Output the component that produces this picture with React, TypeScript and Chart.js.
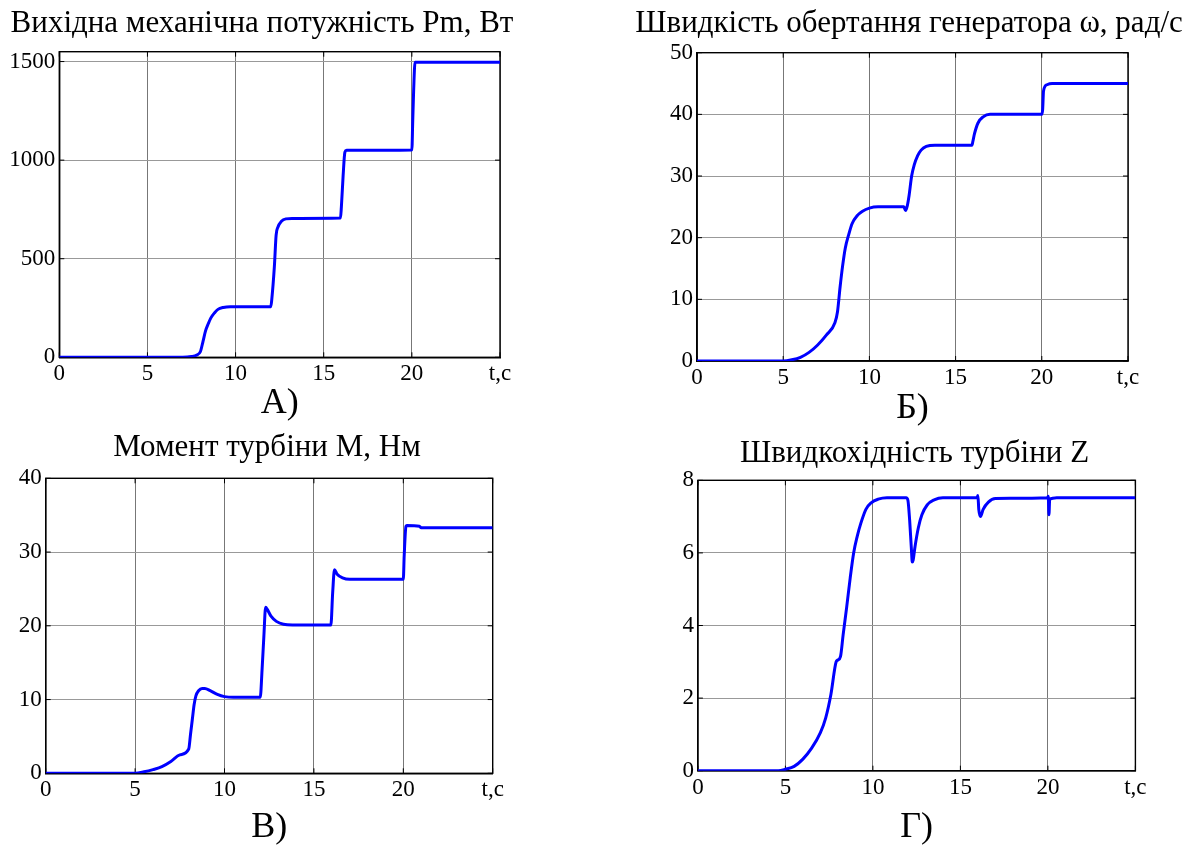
import React, { useEffect, useRef } from 'react';
import { Chart, registerables } from 'chart.js';

Chart.register(...registerables);

const FONT = "'Liberation Serif', 'Times New Roman', serif";

// ---- shared axis ticks ----
const xTickValues = [0, 5, 10, 15, 20, 25];
const xTickLabels = ['0', '5', '10', '15', '20', 't,c'];

// ---- A) Output mechanical power ----
const titleA = 'Вихідна механічна потужність Pm, Вт';
const subA = 'А)';
const yTicksA = [0, 500, 1000, 1500];
const tA = [0, 7.0, 7.5, 7.8, 8.0, 8.15, 8.3, 8.45, 8.6, 8.8, 9.0, 9.3, 9.7, 12.0, 12.05, 12.2, 12.3, 12.4, 12.6, 12.85, 13.2, 15.95, 16.0, 16.1, 16.2, 16.3, 20.0, 20.05, 20.1, 20.18, 25];
const pA = [0, 0, 4, 12, 28, 80, 135, 170, 200, 225, 243, 253, 257, 257, 290, 460, 620, 660, 690, 702, 704, 706, 760, 920, 1040, 1050, 1052, 1200, 1350, 1497, 1497];

// ---- Б) Generator speed ----
const titleB = 'Швидкість обертання генератора ω, рад/с';
const subB = 'Б)';
const yTicksB = [0, 10, 20, 30, 40, 50];
const tB = [0, 5.0, 5.5, 6.0, 6.5, 7.0, 7.5, 8.0, 8.15, 8.3, 8.45, 8.6, 8.8, 9.0, 9.3, 9.6, 10.0, 10.5, 12.0, 12.1, 12.2, 12.3, 12.45, 12.6, 12.8, 13.0, 13.3, 13.8, 15.95, 16.0, 16.1, 16.3, 16.6, 17.0, 20.0, 20.05, 20.1, 20.3, 20.6, 25];
const wB = [0, 0, 0.2, 0.6, 1.4, 2.6, 4.2, 6.2, 8.0, 12.0, 15.5, 18.3, 20.5, 22.3, 23.6, 24.3, 24.8, 25, 25, 24.4, 25.2, 26.8, 30.0, 31.8, 33.3, 34.2, 34.8, 35, 35, 35.6, 36.9, 38.6, 39.6, 40, 40, 40.8, 43.8, 44.8, 45, 45];

// ---- В) Turbine torque ----
const titleC = 'Момент турбіни М, Нм';
const subC = 'В)';
const yTicksC = [0, 10, 20, 30, 40];
const tC = [0, 5.0, 5.5, 6.0, 6.5, 7.0, 7.5, 8.0, 8.1, 8.2, 8.3, 8.4, 8.55, 8.75, 8.9, 9.2, 9.6, 10.0, 10.5, 12.0, 12.1, 12.2, 12.3, 12.4, 12.6, 12.9, 13.3, 13.8, 15.95, 16.05, 16.15, 16.3, 16.6, 17.0, 20.0, 20.05, 20.15, 20.2, 20.9, 21.0, 25];
const mC = [0, 0, 0.2, 0.5, 0.9, 1.6, 2.5, 3.3, 5.3, 7.3, 9.3, 10.5, 11.2, 11.5, 11.5, 11.2, 10.7, 10.4, 10.3, 10.3, 14.0, 18.5, 22.5, 22.2, 21.3, 20.6, 20.2, 20.1, 20.1, 24.5, 27.6, 27.0, 26.5, 26.3, 26.3, 29.5, 33.5, 33.6, 33.5, 33.3, 33.3];

// ---- Г) Turbine tip speed ratio ----
const titleD = 'Швидкохідність турбіни Z';
const subD = 'Г)';
const yTicksD = [0, 2, 4, 6, 8];
const tD = [0, 4.6, 5.0, 5.5, 6.0, 6.5, 7.0, 7.3, 7.6, 7.9, 8.0, 8.15, 8.3, 8.5, 8.7, 8.9, 9.1, 9.3, 9.6, 9.9, 10.3, 10.8, 11.9, 12.0, 12.1, 12.2, 12.25, 12.3, 12.4, 12.6, 12.8, 13.1, 13.5, 14.0, 15.95, 16.0, 16.05, 16.15, 16.3, 16.6, 17.0, 19.98, 20.02, 20.06, 20.1, 20.2, 20.5, 25];
const zD = [0, 0, 0.04, 0.12, 0.32, 0.62, 1.05, 1.45, 2.1, 3.0, 3.05, 3.15, 3.75, 4.5, 5.3, 6.0, 6.45, 6.8, 7.2, 7.38, 7.48, 7.52, 7.52, 7.45, 6.9, 6.1, 5.75, 5.8, 6.15, 6.7, 7.05, 7.32, 7.46, 7.52, 7.52, 7.58, 7.2, 7.0, 7.2, 7.4, 7.5, 7.52, 7.56, 7.05, 7.45, 7.5, 7.52, 7.52];

type Panel = {
  title: string;
  sub: string;
  t: number[];
  v: number[];
  yTicks: number[];
  yMax: number;
  left: number;
  top: number;
  w: number;
  h: number;
  yW: number;
  rW: number;
  titlePad: [number, number];
  xH: number;
  subPad: number;
};

const panels: Panel[] = [
  { title: titleA, sub: subA, t: tA, v: pA, yTicks: yTicksA, yMax: 1550, left: 0, top: 0, w: 524, h: 430, yW: 59.3, rW: 24, titlePad: [5.4, 9.1], xH: 72.7, subPad: 8 },
  { title: titleB, sub: subB, t: tB, v: wB, yTicks: yTicksB, yMax: 50, left: 618, top: 0, w: 582, h: 430, yW: 79, rW: 72, titlePad: [5.4, 10.1], xH: 69, subPad: 3 },
  { title: titleC, sub: subC, t: tC, v: mC, yTicks: yTicksC, yMax: 40, left: 0, top: 420, w: 534, h: 426, yW: 45.7, rW: 41.3, titlePad: [9.4, 11.7], xH: 72.7, subPad: 0 },
  { title: titleD, sub: subD, t: tD, v: zD, yTicks: yTicksD, yMax: 8, left: 678, top: 420, w: 473, h: 426, yW: 19.9, rW: 15.6, titlePad: [15.4, 7.7], xH: 75.3, subPad: 0 },
];

const framePlugin = {
  id: 'frameTicks',
  beforeDatasetsDraw(chart: any) {
    const { ctx, chartArea: a, scales } = chart;
    ctx.save();
    ctx.strokeStyle = '#000';
    ctx.lineWidth = 1.4;
    ctx.strokeRect(a.left, a.top, a.right - a.left, a.bottom - a.top);
    const tl = 5;
    ctx.lineWidth = 1;
    ctx.beginPath();
    scales.x.ticks.forEach((tk: any) => {
      const px = scales.x.getPixelForValue(tk.value);
      ctx.moveTo(px, a.bottom);
      ctx.lineTo(px, a.bottom - tl);
      ctx.moveTo(px, a.top);
      ctx.lineTo(px, a.top + tl);
    });
    scales.y.ticks.forEach((tk: any) => {
      const py = scales.y.getPixelForValue(tk.value);
      ctx.moveTo(a.left, py);
      ctx.lineTo(a.left + tl, py);
      ctx.moveTo(a.right, py);
      ctx.lineTo(a.right - tl, py);
    });
    ctx.stroke();
    ctx.restore();
  },
};

function PanelChart({ p }: { p: Panel }) {
  const ref = useRef<HTMLCanvasElement | null>(null);
  useEffect(() => {
    if (!ref.current) return;
    const chart = new Chart(ref.current, {
      type: 'line',
      data: {
        datasets: [
          {
            data: p.t.map((x, i) => ({ x, y: p.v[i] })),
            borderColor: '#0000ff',
            borderWidth: 3,
            pointRadius: 0,
            cubicInterpolationMode: 'monotone',
            fill: false,
          },
        ],
      },
      options: {
        responsive: false,
        animation: false,
        devicePixelRatio: 1,
        layout: { padding: 0 },
        plugins: {
          legend: { display: false },
          tooltip: { enabled: false },
          title: {
            display: true,
            text: p.title,
            color: '#000',
            font: { family: FONT, size: 31, weight: 'normal' },
            padding: { top: p.titlePad[0], bottom: p.titlePad[1] },
          },
        },
        scales: {
          x: {
            type: 'linear',
            min: 0,
            max: 25,
            afterBuildTicks: (s: any) => {
              s.ticks = xTickValues.map((value) => ({ value }));
            },
            afterFit: (s: any) => {
              s.height = p.xH;
            },
            ticks: {
              autoSkip: false,
              maxRotation: 0,
              padding: 3,
              color: '#000',
              font: { family: FONT, size: 23 },
              callback: (val: any) => {
                const i = xTickValues.indexOf(Number(val));
                return i >= 0 ? xTickLabels[i] : '';
              },
            },
            grid: { color: '#777', lineWidth: 1, drawTicks: false },
            border: { display: true, color: '#000', width: 1.4 },
            title: {
              display: true,
              text: p.sub,
              color: '#000',
              font: { family: FONT, size: 36, lineHeight: 1 },
              padding: { top: 0, bottom: p.subPad },
            },
          },
          y: {
            type: 'linear',
            min: 0,
            max: p.yMax,
            afterBuildTicks: (s: any) => {
              s.ticks = p.yTicks.map((value) => ({ value }));
            },
            afterFit: (s: any) => {
              s.width = p.yW;
            },
            ticks: {
              padding: 4,
              color: '#000',
              font: { family: FONT, size: 23 },
              callback: (val: any) => String(val),
            },
            grid: { color: '#999', lineWidth: 1, drawTicks: false },
            border: { display: true, color: '#000', width: 1.4 },
          },
          y2: {
            type: 'linear',
            position: 'right',
            display: true,
            grid: { display: false, drawTicks: false },
            border: { display: false },
            ticks: { display: false },
            afterFit: (s: any) => {
              s.width = p.rW;
            },
          },
        },
      } as any,
      plugins: [framePlugin],
    });
    return () => chart.destroy();
  }, [p]);
  return (
    <canvas
      ref={ref}
      width={p.w}
      height={p.h}
      style={{ position: 'absolute', left: p.left, top: p.top, width: p.w, height: p.h }}
    />
  );
}

export default function App() {
  return (
    <div style={{ position: 'absolute', left: 0, top: 0, width: 1204, height: 846, background: '#fff', overflow: 'hidden' }}>
      {panels.map((p, i) => (
        <PanelChart key={i} p={p} />
      ))}
    </div>
  );
}
